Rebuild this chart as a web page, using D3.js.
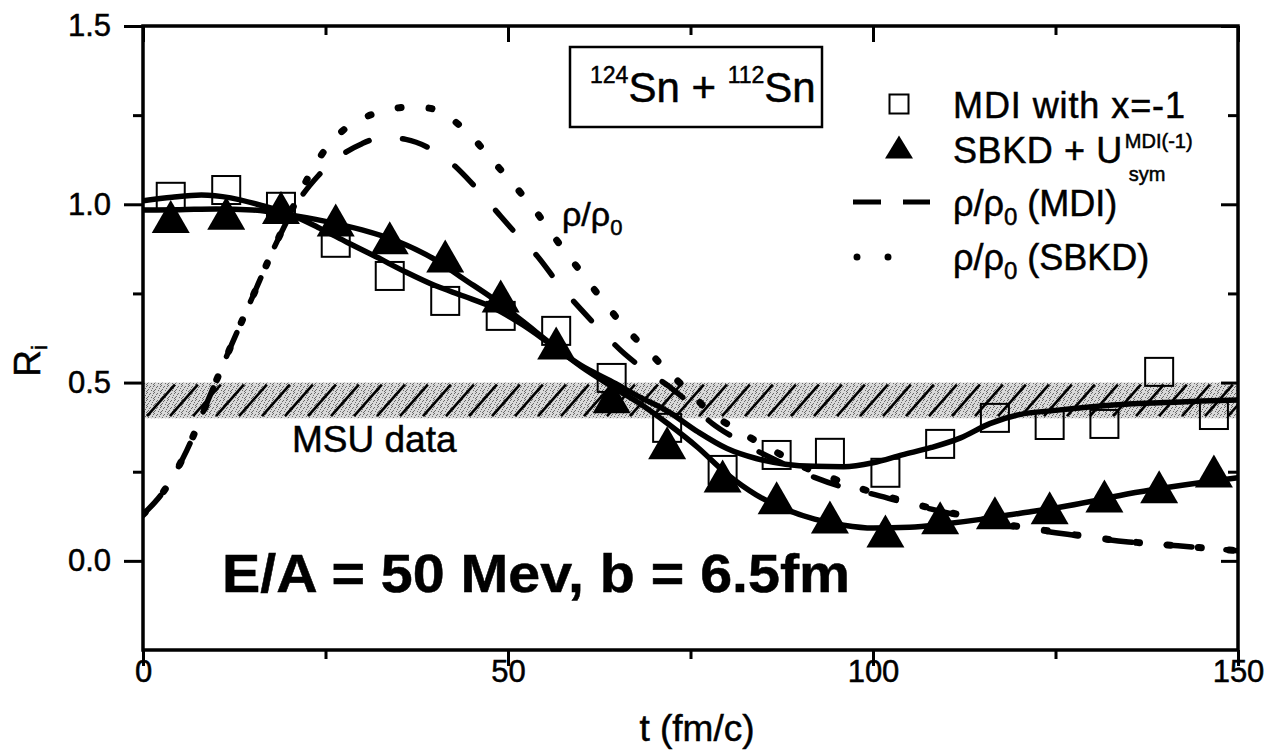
<!DOCTYPE html>
<html>
<head>
<meta charset="utf-8">
<script src="https://cdn.jsdelivr.net/npm/d3@7"></script>
<style>
  body { margin: 0; background: #fff; }
  svg { display: block; }
  text { font-family: "Liberation Sans", Arial, Helvetica, sans-serif; fill: #000; stroke: #000; stroke-width: 0.5px; }
</style>
</head>
<body>
<svg id="chart" width="1276" height="756"></svg>
<script>
// ---- data -------------------------------------------------------------
// time steps (fm/c) of the transport snapshots
const timeSteps = [3.8, 11.4, 18.9, 26.4, 33.8, 41.4, 49.0, 56.6, 64.2, 71.8,
                   79.4, 86.8, 94.1, 101.7, 109.2, 116.7, 124.2, 131.7, 139.2, 146.7];
// isospin transport ratio R_i, MDI with x = -1 (open squares)
const ratioMDI = [1.021, 1.040, 0.993, 0.892, 0.799, 0.729, 0.687, 0.645, 0.513, 0.373,
                  0.255, 0.297, 0.303, 0.247, 0.328, 0.401, 0.381, 0.384, 0.530, 0.409];
// isospin transport ratio R_i, SBKD + U_sym^MDI(-1) (filled triangles)
const ratioSBKD = [0.966, 0.975, 0.991, 0.956, 0.906, 0.855, 0.743, 0.611, 0.460, 0.331,
                   0.238, 0.177, 0.123, 0.084, 0.121, 0.135, 0.149, 0.182, 0.208, 0.252];

// smooth solid curves through each set of points
const fitMDI = [[0,1.010],[4,1.020],[8,1.026],[12,1.018],[16,0.998],[20,0.973],[24,0.935],
  [28,0.893],[32,0.852],[36,0.810],[40,0.772],[44,0.742],[48,0.710],[52,0.662],[56,0.605],
  [60,0.548],[64,0.505],[68,0.460],[72,0.418],[76,0.362],[80,0.315],[84,0.287],[88,0.271],
  [92,0.265],[96,0.264],[100,0.275],[104,0.297],[108,0.318],[112,0.345],[116,0.385],
  [120,0.410],[125,0.422],[130,0.432],[135,0.440],[140,0.444],[145,0.448],[150,0.451]];
const fitSBKD = [[0,0.984],[5,0.985],[10,0.987],[15,0.984],[20,0.971],[25,0.952],[30,0.928],
  [35,0.895],[40,0.845],[44,0.790],[48,0.735],[52,0.672],[56,0.607],[60,0.545],[64,0.492],
  [68,0.442],[72,0.383],[76,0.318],[80,0.243],[84,0.185],[88,0.145],[92,0.117],[96,0.100],
  [100,0.092],[105,0.094],[110,0.104],[115,0.117],[120,0.133],[125,0.148],[130,0.167],
  [135,0.188],[140,0.205],[145,0.220],[150,0.233]];

// central density rho/rho0
const densityMDI = [[0,0.13],[3,0.20],[6,0.31],[9,0.455],[12,0.60],[15,0.74],[18,0.88],
  [21,1.00],[24,1.08],[27,1.135],[30,1.17],[33,1.188],[36,1.182],[39,1.16],[42,1.12],
  [45,1.06],[48,0.99],[51,0.92],[54,0.855],[57,0.775],[60,0.705],[63,0.64],[66,0.58],
  [69,0.532],[72,0.49],[75,0.44],[78,0.385],[81,0.345],[84,0.31],[88,0.27],[92,0.234],
  [96,0.206],[100,0.187],[104,0.165],[108,0.145],[112,0.126],[116,0.108],[120,0.093],
  [125,0.079],[130,0.065],[135,0.053],[140,0.045],[145,0.037],[150,0.028]];
const densitySBKD = [[0,0.13],[3,0.20],[6,0.31],[9,0.455],[12,0.60],[15,0.74],[18,0.88],
  [21,1.01],[24,1.125],[27,1.20],[30,1.24],[33,1.262],[36,1.272],[39,1.27],[42,1.243],
  [45,1.19],[48,1.12],[51,1.05],[54,0.975],[57,0.89],[60,0.81],[63,0.73],[66,0.655],
  [69,0.592],[72,0.53],[75,0.47],[78,0.412],[81,0.372],[84,0.336],[87,0.302],[90,0.268],
  [94,0.235],[98,0.205],[102,0.18],[106,0.158],[110,0.138],[114,0.12],[118,0.103],
  [122,0.09],[126,0.078],[130,0.066],[135,0.054],[140,0.045],[145,0.037],[150,0.028]];

// MSU measurement band
const msuBand = [0.40, 0.50];

// axis ticks
const xMajor = [0, 50, 100, 150];
const xMinor = [25, 75, 125];
const yMajor = [0.0, 0.5, 1.0, 1.5];
const yMinor = [0.25, 0.75, 1.25];

// ---- layout -----------------------------------------------------------
const svg = d3.select("#chart");
const x = d3.scaleLinear().domain([0, 150]).range([143, 1238]);
const y = d3.scaleLinear().domain([-0.25, 1.5]).range([650, 26]);
const [x0, x1] = x.range();
const [yb, yt] = y.range();

const defs = svg.append("defs");
defs.append("clipPath").attr("id", "plotClip")
  .append("rect").attr("x", x0).attr("y", yt).attr("width", x1 - x0).attr("height", yb - yt);

// grainy grey fill for the band
const stip = defs.append("pattern").attr("id", "stipple")
  .attr("patternUnits", "userSpaceOnUse").attr("width", 7).attr("height", 7);
stip.append("rect").attr("width", 7).attr("height", 7).attr("fill", "#d9d9d9");
[[0,0],[3,1],[5,3],[1,4],[4,5],[6,6],[2,2],[6,1],[0,5]].forEach(([a, b]) =>
  stip.append("rect").attr("x", a).attr("y", b).attr("width", 1).attr("height", 1).attr("fill", "#6a6a6a"));

const plot = svg.append("g").attr("clip-path", "url(#plotClip)");

// ---- MSU band --------------------------------------------------------
const bandTop = y(msuBand[1]), bandBot = y(msuBand[0]);
defs.append("clipPath").attr("id", "bandClip")
  .append("rect").attr("x", x0).attr("y", bandTop).attr("width", x1 - x0).attr("height", bandBot - bandTop);
plot.append("rect").attr("x", x0).attr("y", bandTop).attr("width", x1 - x0)
  .attr("height", bandBot - bandTop).attr("fill", "url(#stipple)");
const hatch = plot.append("g").attr("clip-path", "url(#bandClip)");
const hatchRise = (bandBot - bandTop) * 0.78;
hatch.selectAll("line").data(d3.range(x0 + 4, x1 + 30, 23)).join("line")
  .attr("x1", d => d).attr("y1", bandBot - 2)
  .attr("x2", d => d + hatchRise).attr("y2", bandTop + 2)
  .attr("stroke", "#000").attr("stroke-width", 2.6);

// ---- density curves -------------------------------------------------
const line = d3.line().x(d => x(d[0])).y(d => y(d[1])).curve(d3.curveMonotoneX);
plot.append("path").datum(densityMDI).attr("d", line)
  .attr("fill", "none").attr("stroke", "#000").attr("stroke-width", 5.5)
  .attr("stroke-linecap", "round").attr("stroke-dasharray", "26 34");
plot.append("path").datum(densitySBKD).attr("d", line)
  .attr("fill", "none").attr("stroke", "#000").attr("stroke-width", 7)
  .attr("stroke-linecap", "round").attr("stroke-dasharray", "3 28");

// ---- symbols --------------------------------------------------------
const sq = 28;
plot.append("g").selectAll("rect").data(timeSteps.map((t, i) => [t, ratioMDI[i]])).join("rect")
  .attr("x", d => x(d[0]) - sq / 2).attr("y", d => y(d[1]) - sq / 2)
  .attr("width", sq).attr("height", sq)
  .attr("fill", "none").attr("stroke", "#000").attr("stroke-width", 2);

const triW = 38, triH = 33;
const tri = (cx, cy, w, h) => `M${cx},${cy - h / 2}L${cx + w / 2},${cy + h / 2}L${cx - w / 2},${cy + h / 2}Z`;
plot.append("g").selectAll("path").data(timeSteps.map((t, i) => [t, ratioSBKD[i]])).join("path")
  .attr("d", d => tri(x(d[0]), y(d[1]), triW, triH)).attr("fill", "#000");

// ---- solid fit curves ------------------------------------------------
[fitMDI, fitSBKD].forEach(series =>
  plot.append("path").datum(series).attr("d", line)
    .attr("fill", "none").attr("stroke", "#000").attr("stroke-width", 5.5)
    .attr("stroke-linejoin", "round"));

// ---- axes -----------------------------------------------------------
function styleAxis(g) {
  g.select(".domain").remove();
  g.selectAll(".tick line").attr("stroke", "#000").attr("stroke-width", 3);
  g.selectAll(".tick text").attr("font-size", 31).attr("fill", "#000")
    .attr("font-family", '"Liberation Sans", Arial, sans-serif');
}
svg.append("g").attr("transform", `translate(${x0},0)`)
  .call(d3.axisLeft(y).tickValues(yMajor).tickSize(19).tickPadding(13).tickFormat(d3.format(".1f")))
  .call(styleAxis);
svg.append("g").attr("transform", `translate(${x0},0)`)
  .call(d3.axisLeft(y).tickValues(yMinor).tickSize(10).tickFormat(""))
  .call(styleAxis);
svg.append("g").attr("transform", `translate(${x1},0)`)
  .call(d3.axisLeft(y).tickValues(yMajor).tickSize(17).tickFormat(""))
  .call(styleAxis);
svg.append("g").attr("transform", `translate(${x1},0)`)
  .call(d3.axisLeft(y).tickValues(yMinor).tickSize(10).tickFormat(""))
  .call(styleAxis);
svg.append("g").attr("transform", `translate(0,${yb})`)
  .call(d3.axisBottom(x).tickValues(xMajor).tickSize(16).tickPadding(-6).tickFormat(d3.format("d")))
  .call(styleAxis);
svg.append("g").attr("transform", `translate(0,${yb})`)
  .call(d3.axisBottom(x).tickValues(xMinor).tickSize(9).tickFormat(""))
  .call(styleAxis);
svg.append("g").attr("transform", `translate(0,${yt})`)
  .call(d3.axisBottom(x).tickValues(xMajor).tickSize(16).tickFormat(""))
  .call(styleAxis);
svg.append("g").attr("transform", `translate(0,${yt})`)
  .call(d3.axisBottom(x).tickValues(xMinor).tickSize(9).tickFormat(""))
  .call(styleAxis);

// frame
svg.append("rect").attr("x", x0).attr("y", yt).attr("width", x1 - x0).attr("height", yb - yt)
  .attr("fill", "none").attr("stroke", "#000").attr("stroke-width", 3.5);

// axis titles
svg.append("text").attr("x", 697).attr("y", 741).attr("text-anchor", "middle")
  .attr("font-size", 37).text("t (fm/c)");
const yTitle = svg.append("text").attr("transform", "translate(40,361) rotate(-90)")
  .attr("text-anchor", "middle").attr("font-size", 37);
yTitle.append("tspan").text("R");
yTitle.append("tspan").attr("font-size", 22).attr("dy", 7).text("i");

// ---- annotations ---------------------------------------------------
// reaction box
svg.append("rect").attr("x", 570).attr("y", 47).attr("width", 252).attr("height", 80)
  .attr("fill", "none").attr("stroke", "#000").attr("stroke-width", 2.5);
const sys = svg.append("text").attr("x", 590).attr("y", 102).attr("font-size", 42);
sys.append("tspan").attr("font-size", 23).attr("dy", -19).text("124");
sys.append("tspan").attr("dy", 19).text("Sn + ");
sys.append("tspan").attr("font-size", 23).attr("dy", -19).text("112");
sys.append("tspan").attr("dy", 19).text("Sn");

// rho/rho0 label next to the curves
const rhoLbl = svg.append("text").attr("x", 562).attr("y", 226).attr("font-size", 34);
rhoLbl.append("tspan").text("ρ/ρ");
rhoLbl.append("tspan").attr("font-size", 22).attr("dy", 9).text("0");

svg.append("text").attr("x", 292).attr("y", 452).attr("font-size", 37).text("MSU data");

// beam energy and impact parameter note
svg.append("text").attr("x", 222).attr("y", 592)
  .attr("font-family", '"DejaVu Sans", sans-serif').attr("font-weight", "bold")
  .attr("font-size", 54).attr("textLength", 628).attr("lengthAdjust", "spacingAndGlyphs")
  .attr("stroke-width", 1)
  .text("E/A = 50 Mev, b = 6.5fm");

// ---- legend --------------------------------------------------------
const lg = svg.append("g");
const lgX = 953, lgFont = 36;
lg.append("rect").attr("x", 899 - 9.5).attr("y", 104 - 9.5).attr("width", 19).attr("height", 19)
  .attr("fill", "none").attr("stroke", "#000").attr("stroke-width", 2);
lg.append("text").attr("x", lgX).attr("y", 118).attr("font-size", lgFont)
  .attr("textLength", 232).attr("lengthAdjust", "spacing").text("MDI with x=-1");

lg.append("path").attr("d", tri(899, 147, 28, 23)).attr("fill", "#000");
const sbkdTxt = lg.append("text").attr("x", lgX).attr("y", 163).attr("font-size", lgFont)
  .attr("letter-spacing", 0.6).text("SBKD + U");
const uEnd = lgX + sbkdTxt.node().getComputedTextLength() + 2;
lg.append("text").attr("x", uEnd).attr("y", 148).attr("font-size", 20).text("MDI(-1)");
lg.append("text").attr("x", uEnd + 4).attr("y", 181).attr("font-size", 20).text("sym");

lg.append("line").attr("x1", 853).attr("x2", 930).attr("y1", 202).attr("y2", 202)
  .attr("stroke", "#000").attr("stroke-width", 5).attr("stroke-dasharray", "28 22");
const l3 = lg.append("text").attr("x", lgX).attr("y", 216).attr("font-size", lgFont);
l3.append("tspan").text("ρ/ρ");
l3.append("tspan").attr("font-size", 24).attr("dy", 9).text("0");
l3.append("tspan").attr("dy", -9).text(" (MDI)");

lg.append("line").attr("x1", 857).attr("x2", 919).attr("y1", 257).attr("y2", 257)
  .attr("stroke", "#000").attr("stroke-width", 7).attr("stroke-linecap", "round")
  .attr("stroke-dasharray", "0 31");
const l4 = lg.append("text").attr("x", lgX).attr("y", 270).attr("font-size", lgFont);
l4.append("tspan").text("ρ/ρ");
l4.append("tspan").attr("font-size", 24).attr("dy", 9).text("0");
l4.append("tspan").attr("dy", -9).text(" (SBKD)");
</script>
</body>
</html>
